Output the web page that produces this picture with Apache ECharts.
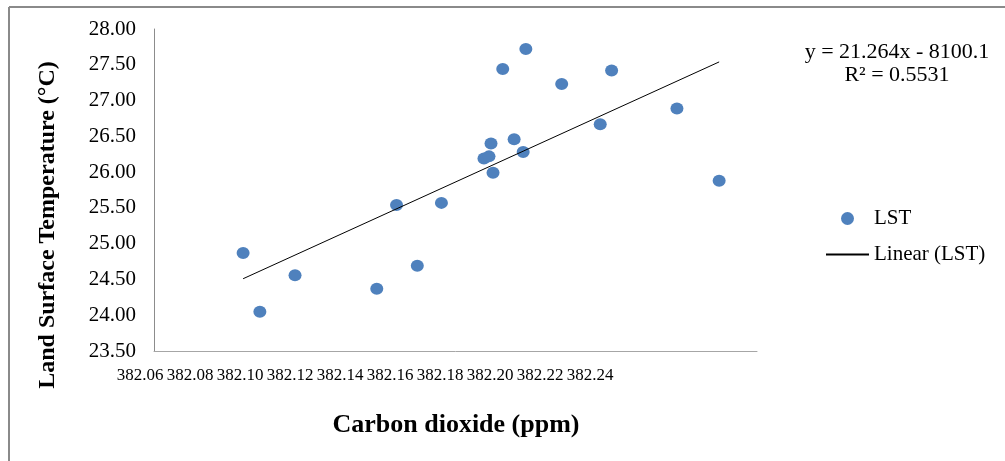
<!DOCTYPE html>
<html>
<head>
<meta charset="utf-8">
<script src="https://cdn.jsdelivr.net/npm/echarts@6/dist/echarts.min.js"></script>
<style>
html,body{margin:0;padding:0;background:#fff;}
#chart{width:1005px;height:461px;}
</style>
</head>
<body>
<div id="chart"></div>
<script>
// Carbon dioxide (ppm) readings
const co2 = [382.0866, 382.0916, 382.1021, 382.1265, 382.1324, 382.1386, 382.1458,
             382.1710, 382.1641, 382.1966, 382.1817, 382.2161, 382.1932, 382.1606,
             382.1675, 382.1702, 382.1585, 382.1600, 382.1612, 382.2287];
// Land surface temperature (°C)
const lst = [24.87, 24.05, 24.56, 24.37, 25.54, 24.69, 25.57,
             27.72, 27.44, 27.42, 27.23, 26.89, 26.67, 26.40,
             26.46, 26.28, 26.19, 26.22, 25.99, 25.88];
// Linear trendline endpoints (as drawn)
const trendX = [382.0866, 382.2287];
const trendY = [24.51, 27.54];
const equationText = ['y = 21.264x - 8100.1', 'R² = 0.5531'];
const xTicks = {min: 382.06, max: 382.24, interval: 0.02};
const yTicks = {min: 23.5, max: 28.0, interval: 0.5};

const scatterData = co2.map((x, i) => [x, lst[i]]);
const trendData = trendX.map((x, i) => [x, trendY[i]]);
const serif = 'Liberation Serif';

const chart = echarts.init(document.getElementById('chart'));
chart.setOption({
  animation: false,
  backgroundColor: '#fff',
  grid: [
    {left: 154, top: 29, width: 603, height: 322},
    {left: 140, top: 29, width: 450, height: 322}
  ],
  xAxis: [
    {
      type: 'value', gridIndex: 0,
      min: xTicks.min, max: xTicks.max, interval: xTicks.interval,
      axisLine: {show: true, onZero: false, lineStyle: {color: '#a6a6a6', width: 1}},
      axisTick: {show: false},
      axisLabel: {show: false},
      splitLine: {show: false}
    },
    {
      type: 'value', gridIndex: 1,
      min: xTicks.min, max: xTicks.max, interval: xTicks.interval,
      axisLine: {show: false},
      axisTick: {show: false},
      axisLabel: {show: true, margin: 16, fontFamily: serif, fontSize: 17, color: '#000',
        formatter: v => v.toFixed(2)},
      splitLine: {show: false}
    }
  ],
  yAxis: [
    {
      type: 'value', gridIndex: 0,
      min: yTicks.min, max: yTicks.max, interval: yTicks.interval,
      axisLine: {show: true, lineStyle: {color: '#8c8c8c', width: 1}},
      axisTick: {show: false},
      axisLabel: {margin: 18, fontFamily: serif, fontSize: 21, color: '#000',
        formatter: v => v.toFixed(2)},
      splitLine: {show: false}
    },
    {
      type: 'value', gridIndex: 1, min: 0, max: 1, show: false
    }
  ],
  legend: {
    orient: 'vertical', left: 820, top: 203,
    itemWidth: 43, itemHeight: 13, itemGap: 15,
    textStyle: {fontFamily: serif, fontSize: 21, color: '#000'},
    data: [
      {name: 'LST'},
      {name: 'Linear (LST)', itemStyle: {color: 'rgba(0,0,0,0)', borderWidth: 0, opacity: 0}}
    ]
  },
  graphic: [
    {type: 'line', shape: {x1: 9, y1: 7, x2: 1005, y2: 7}, style: {stroke: '#8a8a8a', lineWidth: 2}, silent: true},
    {type: 'line', shape: {x1: 9, y1: 7, x2: 9, y2: 461}, style: {stroke: '#8a8a8a', lineWidth: 2}, silent: true},
    {type: 'text', x: 897, y: 52, style: {text: equationText[0], fontFamily: serif, fontSize: 22, fill: '#000', textAlign: 'center', textVerticalAlign: 'middle'}},
    {type: 'text', x: 897, y: 75, style: {text: equationText[1], fontFamily: serif, fontSize: 22, fill: '#000', textAlign: 'center', textVerticalAlign: 'middle'}},
    {type: 'text', x: 48, y: 225, rotation: Math.PI / 2,
      style: {text: 'Land Surface Temperature (°C)', fontFamily: serif, fontWeight: 'bold', fontSize: 24, fill: '#000', textAlign: 'center', textVerticalAlign: 'middle'}},
    {type: 'text', x: 456, y: 425,
      style: {text: 'Carbon dioxide (ppm)', fontFamily: serif, fontWeight: 'bold', fontSize: 26, fill: '#000', textAlign: 'center', textVerticalAlign: 'middle'}}
  ],
  series: [
    {
      name: 'LST', type: 'scatter', xAxisIndex: 0, yAxisIndex: 0,
      data: scatterData, symbol: 'circle', symbolSize: [13, 12],
      itemStyle: {color: '#4F81BD', opacity: 1}
    },
    {
      name: 'Linear (LST)', type: 'line', xAxisIndex: 0, yAxisIndex: 0,
      data: trendData, symbol: 'none', showSymbol: false,
      lineStyle: {color: '#000', width: 1},
      itemStyle: {color: '#000'}
    }
  ]
});
</script>
</body>
</html>
